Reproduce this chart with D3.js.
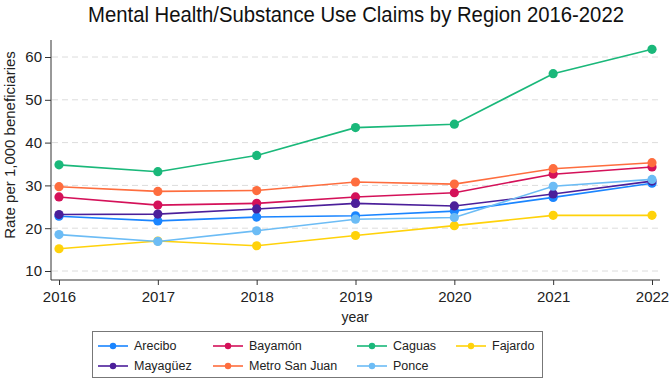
<!DOCTYPE html>
<html>
<head>
<meta charset="utf-8">
<script src="https://cdn.jsdelivr.net/npm/d3@7"></script>
<style>
  body { margin: 0; background: #fff; font-family: "Liberation Sans", Arial, sans-serif; }
  .grid line { stroke: #dcdcdc; stroke-dasharray: 6,4; }
  .axis text { font-size: 15px; fill: #222; }
  .axis path, .axis line { stroke: #333; }
</style>
</head>
<body>
<div id="chart"></div>
<script>
// data
var years = [2016, 2017, 2018, 2019, 2020, 2021, 2022];
var regions = ["Arecibo", "Bayamón", "Caguas", "Fajardo", "Mayagüez", "Metro San Juan", "Ponce"];
var arecibo = [22.8, 21.7, 22.6, 22.9, 24.0, 27.2, 30.5];
var bayamon = [27.3, 25.4, 25.8, 27.3, 28.3, 32.6, 34.3];
var caguas = [34.8, 33.2, 37.0, 43.5, 44.3, 56.1, 61.8];
var fajardo = [15.2, 17.0, 15.9, 18.3, 20.6, 23.0, 23.0];
var mayaguez = [23.2, 23.3, 24.5, 25.8, 25.2, 28.0, 31.0];
var metroSanJuan = [29.7, 28.6, 28.8, 30.8, 30.3, 33.9, 35.3];
var ponce = [18.5, 16.9, 19.4, 22.1, 22.5, 29.8, 31.4];
var yTicks = [10, 20, 30, 40, 50, 60];
var colors = ["#1a85ff", "#d41159", "#1ab87a", "#ffd20a", "#4b1f9a", "#fe6d3e", "#6cbcf5"];

var seriesValues = [arecibo, bayamon, caguas, fajardo, mayaguez, metroSanJuan, ponce];
var series = regions.map(function(name, i) {
    return { name: name, color: colors[i],
             values: years.map(function(y, j) { return { year: y, value: seriesValues[i][j] }; }) };
});

var W = 669, H = 380;
var margin = { top: 40, right: 9, bottom: 100, left: 51 };

var svg = d3.select("#chart").append("svg")
    .attr("width", W)
    .attr("height", H);

var x = d3.scaleLinear()
    .domain([2016, 2022])
    .range([59, 652]);

var y = d3.scaleLinear()
    .domain([10, 60])
    .range([271, 57]);

var plotRight = 660, plotBottom = 280;

// gridlines
svg.append("g")
    .attr("class", "grid")
    .selectAll("line")
    .data(yTicks)
    .enter().append("line")
    .attr("x1", margin.left + 1)
    .attr("x2", plotRight)
    .attr("y1", function(d) { return y(d); })
    .attr("y2", function(d) { return y(d); });

// axes
var yAxis = d3.axisLeft(y).tickValues(yTicks).tickSize(6).tickPadding(3);
var xAxis = d3.axisBottom(x).tickValues(years).tickFormat(d3.format("d")).tickSize(5).tickPadding(6);

var gy = svg.append("g")
    .attr("class", "axis")
    .attr("transform", "translate(" + margin.left + ",0)")
    .call(yAxis);
gy.select(".domain").attr("d", "M0," + margin.top + "V" + plotBottom);

var gx = svg.append("g")
    .attr("class", "axis")
    .attr("transform", "translate(0," + plotBottom + ")")
    .call(xAxis);
gx.select(".domain").attr("d", "M" + margin.left + ",0H" + plotRight);

// title and axis labels
svg.append("text")
    .attr("x", 356)
    .attr("y", 22)
    .attr("text-anchor", "middle")
    .attr("textLength", 536)
    .attr("lengthAdjust", "spacingAndGlyphs")
    .style("font-size", "22px")
    .style("fill", "#111")
    .text("Mental Health/Substance Use Claims by Region 2016-2022");

svg.append("text")
    .attr("transform", "translate(15," + 145 + ") rotate(-90)")
    .attr("text-anchor", "middle")
    .style("font-size", "15px")
    .style("fill", "#222")
    .text("Rate per 1,000 beneficiaries");

svg.append("text")
    .attr("x", 355)
    .attr("y", 322)
    .attr("text-anchor", "middle")
    .style("font-size", "14px")
    .style("fill", "#222")
    .text("year");

// lines and markers
var line = d3.line()
    .x(function(d) { return x(d.year); })
    .y(function(d) { return y(d.value); });

var groups = svg.append("g").selectAll("g")
    .data(series)
    .enter().append("g");

groups.append("path")
    .attr("fill", "none")
    .attr("stroke", function(d) { return d.color; })
    .attr("stroke-width", 1.6)
    .attr("d", function(d) { return line(d.values); });

groups.selectAll("circle")
    .data(function(d) { return d.values.map(function(v) { return { v: v, color: d.color }; }); })
    .enter().append("circle")
    .attr("cx", function(d) { return x(d.v.year); })
    .attr("cy", function(d) { return y(d.v.value); })
    .attr("r", 4.6)
    .attr("fill", function(d) { return d.color; });

// legend
var legend = svg.append("g");
legend.append("rect")
    .attr("x", 92.5)
    .attr("y", 331.5)
    .attr("width", 450)
    .attr("height", 46)
    .attr("fill", "#fff")
    .attr("stroke", "#777")
    .attr("stroke-width", 1);

var colX = [98, 213, 357, 456];
var rowY = [346, 366];

var items = legend.selectAll("g.item")
    .data(series)
    .enter().append("g")
    .attr("transform", function(d, i) {
        return "translate(" + colX[i % 4] + "," + rowY[Math.floor(i / 4)] + ")";
    });

items.append("line")
    .attr("x1", 0).attr("x2", 30)
    .attr("stroke", function(d) { return d.color; })
    .attr("stroke-width", 1.6);
items.append("circle")
    .attr("cx", 15)
    .attr("r", 3.2)
    .attr("fill", function(d) { return d.color; });
items.append("text")
    .attr("x", 36)
    .attr("dy", "0.35em")
    .style("font-size", "12.5px")
    .style("fill", "#222")
    .text(function(d) { return d.name; });
</script>
</body>
</html>
